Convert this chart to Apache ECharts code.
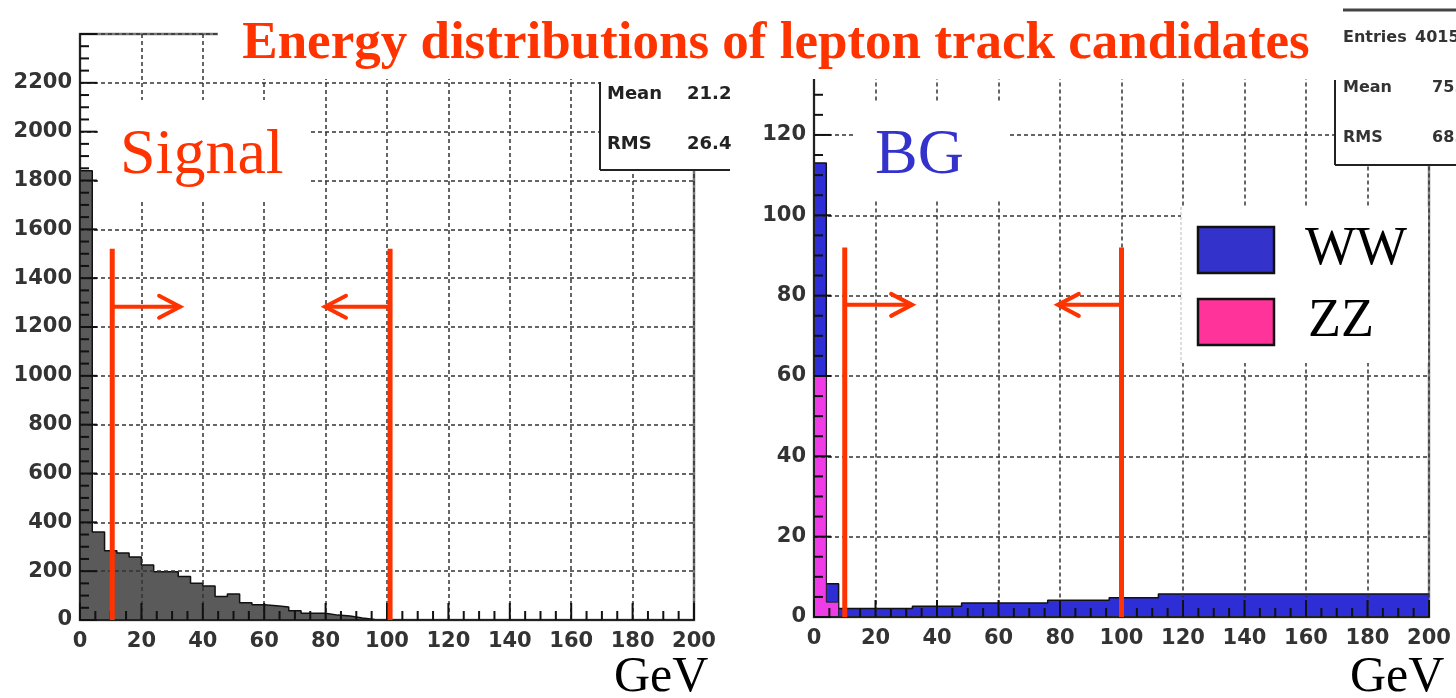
<!DOCTYPE html>
<html><head><meta charset="utf-8">
<script src="https://cdn.jsdelivr.net/npm/echarts@6/dist/echarts.min.js"></script>
<style>html,body{margin:0;padding:0;background:#fff}#c{width:1456px;height:698px}</style>
</head><body><div id="c"></div>
<script>
// ---- data (4 GeV bins, 0..200 GeV) ----
const binStarts = [0,4,8,12,16,20,24,28,32,36,40,44,48,52,56,60,64,68,72,76,80,84,88,92,96,
  100,104,108,112,116,120,124,128,132,136,140,144,148,152,156,160,164,168,172,176,180,184,188,192,196];
const binEnd = 200;
const signalCounts = [1840,360,284,274,258,225,198,198,178,151,139,96,106,71,62,58,53,38,28,28,
  20,16,8,2,0,0,0,0,0,0,0,0,0,0,0,0,0,0,0,0,0,0,0,0,0,0,0,0,0,0];
const zzCounts = [60,3.7,0,0,0,0,0,0,0,0,0,0,0,0,0,0,0,0,0,0,0,0,0,0,0,
  0,0,0,0,0,0,0,0,0,0,0,0,0,0,0,0,0,0,0,0,0,0,0,0,0];
const wwCounts = [53,4.6,2.1,2.1,2.1,2.1,2.1,2.1,2.65,2.65,2.65,2.65,3.5,3.5,3.5,3.5,3.5,3.5,3.5,
  4.15,4.15,4.15,4.15,4.15,4.8,4.8,4.8,4.8,5.7,5.7,5.7,5.7,5.7,5.7,5.7,5.7,5.7,5.7,5.7,5.7,5.7,5.7,
  5.7,5.7,5.7,5.7,5.7,5.7,5.7,5.7];
const xTicks = {min:0, max:200, interval:20, minor:5};
const ySignal = {min:0, max:2400, interval:200, minor:50};
const yBG = {min:0, max:140, interval:20, minor:5};
const statsSignal = [['Mean','21.2'],['RMS','26.4']];
const statsBG = [['Entries','4015'],['Mean','75.'],['RMS','68.']];
const legendItems = ['WW','ZZ'];
// cut annotations (GeV / counts)
const cutSignal = {lo:10.5, hi:101, top:1520, arrowY:1283, loTip:32.6, hiTip:79.8};
const cutBG = {lo:10, hi:100, top:92, arrowY:77.7, loTip:31.9, hiTip:79.3};

function stepData(vals){
  const d = binStarts.map((x,i)=>[x, vals[i]]);
  d.push([binEnd, vals[vals.length-1]]);
  return d;
}
// stacked total (WW on top of ZZ)
const bgTotal = wwCounts.map((v,i)=>v + zzCounts[i]);

const labelFont = {fontFamily:'DejaVu Sans', fontSize:21, fontWeight:'bold', color:'#333'};
const gridLine = {show:true, lineStyle:{color:'#333', width:1.5, type:[4,3]}};

function axis(r, idx, isY){
  return {type:'value', gridIndex:idx, position: isY?'left':'bottom', min:r.min, max:r.max, interval:r.interval, z:10,
    axisLine:{show:true, onZero:false, lineStyle:{color:'#222', width:2}},
    axisTick:{show:false}, minorTick:{show:false},
    axisLabel:Object.assign({margin: isY?8:11, showMaxLabel: !isY, formatter:v=>String(v)}, labelFont),
    splitLine:gridLine};
}

const chart = echarts.init(document.getElementById('c'), null, {renderer:'canvas'});
chart.setOption({
  animation:false,
  backgroundColor:'#fff',
  grid:[
    {left:80, top:34, width:614, height:586, show:true, borderColor:'#777', borderWidth:2.5, backgroundColor:'transparent'},
    {left:814, top:54.6, width:615, height:562.4, show:true, borderColor:'#888', borderWidth:2.5, backgroundColor:'transparent'}
  ],
  xAxis:[axis(xTicks,0,false), axis(xTicks,1,false)],
  yAxis:[axis(ySignal,0,true), axis(yBG,1,true)],
  series:[
    {type:'line', name:'Signal', xAxisIndex:0, yAxisIndex:0, step:'end', symbol:'none', z:3,
     data:stepData(signalCounts), lineStyle:{color:'#111', width:1.5}, areaStyle:{color:'#5a5a5a', opacity:1}},
    {type:'line', name:'WW', xAxisIndex:1, yAxisIndex:1, step:'end', symbol:'none', z:3,
     data:stepData(bgTotal), lineStyle:{color:'#111', width:1.5}, areaStyle:{color:'#2E2ED6', opacity:1}},
    {type:'line', name:'ZZ', xAxisIndex:1, yAxisIndex:1, step:'end', symbol:'none', z:4,
     data:stepData(zzCounts), lineStyle:{color:'#222', width:1}, areaStyle:{color:'#F03CE6', opacity:1}}
  ]
});

// ---- overlays ----
const RED = '#FF3300';
const g = [];
function rect(x,y,w,h,z,fill,stroke,lw,dash){
  g.push({type:'rect', shape:{x,y,width:w,height:h}, z:z||50,
    style:{fill:fill||'#fff', stroke:stroke||null, lineWidth:lw||0, lineDash:dash||null}});
}
function line(x1,y1,x2,y2,color,w,z,dash){
  g.push({type:'line', shape:{x1,y1,x2,y2}, z:z||52, style:{stroke:color, lineWidth:w, lineDash:dash||null}});
}
function text(t,x,y,font,color,align,z){
  g.push({type:'text', x, y, z:z||55, style:{text:t, font, fill:color, textAlign:align||'left', textVerticalAlign:'middle'}});
}
// inside ticks (ROOT style), positioned through the axes' scales
function ticks(gi, xr, yr){
  const p = (x,y)=>chart.convertToPixel({gridIndex:gi},[x,y]);
  for (let v = xr.min; v <= xr.max + 1e-9; v += xr.minor){
    const major = Math.abs(v/xr.interval - Math.round(v/xr.interval)) < 1e-6;
    const q = p(v, yr.min);
    line(q[0], q[1], q[0], q[1] - (major?17:9), '#111', 2, 20);
  }
  for (let v = yr.min; v <= yr.max + 1e-9; v += yr.minor){
    const major = Math.abs(v/yr.interval - Math.round(v/yr.interval)) < 1e-6;
    const q = p(xr.min, v);
    line(q[0], q[1], q[0] + (major?17:9), q[1], '#111', 2, 20);
  }
}
ticks(0, xTicks, ySignal);
ticks(1, xTicks, yBG);
// left stats box (right part hidden by right panel)
rect(600,60,130,110,50);
line(600,82,600,170,'#222',2);
line(600,170,730,170,'#222',2);
const statFont = 'bold 18px "DejaVu Sans"';
const statFontR = 'bold 16px "DejaVu Sans"';
statsSignal.forEach((s,i)=>{ text(s[0],607,94+i*50,statFont,'#222'); text(s[1],687,94+i*50,statFont,'#222'); });
// right panel stats box
rect(1335,8,121,157,50);
line(1343,10,1456,10,'#444',3);
line(1335,80,1335,165,'#222',2);
line(1335,165,1456,165,'#222',2);
statsBG.forEach((s,i)=>{ text(s[0],1343,38+i*50,statFontR,'#333'); text(s[1], s[0]==='Entries'?1415:1432,38+i*50,statFontR,'#333'); });
// title box
rect(218,0,1125,79,60);
text('Energy distributions of lepton track candidates',776,44,'bold 53px "Liberation Serif"',RED,'center',61);
// label boxes
rect(98,100,210,100,50);
text('Signal',120,156,'64px "Liberation Serif"',RED,'left',55);
rect(855,103,155,97,50);
text('BG',875,156,'64px "Liberation Serif"','#3333CC','left',55);
// legend
rect(1181,207,247,156,50);
line(1181,207,1181,363,'#bbb',1,51,[3,2]);
rect(1198,227,76,46,52,'#3333CC','#111',2.5);
rect(1198,299,76,46,52,'#FF3399','#111',2.5);
text(legendItems[0],1305,250,'54px "Liberation Serif"','#000','left',55);
text(legendItems[1],1308,322,'54px "Liberation Serif"','#000','left',55);
// axis unit labels
text('GeV',614,678,'50px "Liberation Serif"','#000','left',55);
text('GeV',1350,678,'50px "Liberation Serif"','#000','left',55);

// cut lines + arrows, placed through the chart's scales
function cuts(gi, c){
  const p = (x,y)=>chart.convertToPixel({gridIndex:gi},[x,y]);
  const lo0 = p(c.lo,0), lo1 = p(c.lo,c.top), hi0 = p(c.hi,0), hi1 = p(c.hi,c.top);
  line(lo0[0],lo0[1],lo1[0],lo1[1],RED,5,70);
  line(hi0[0],hi0[1],hi1[0],hi1[1],RED,5,70);
  const a = p(c.lo,c.arrowY), at = p(c.loTip,c.arrowY);
  const b = p(c.hi,c.arrowY), bt = p(c.hiTip,c.arrowY);
  line(a[0],a[1],at[0],at[1],RED,4,70);
  line(b[0],b[1],bt[0],bt[1],RED,4,70);
  g.push({type:'polyline', z:70, shape:{points:[[at[0]-21,at[1]-11],[at[0],at[1]],[at[0]-21,at[1]+11]]}, style:{stroke:RED, lineWidth:4, fill:null, lineCap:'round', lineJoin:'miter'}});
  g.push({type:'polyline', z:70, shape:{points:[[bt[0]+21,bt[1]-11],[bt[0],bt[1]],[bt[0]+21,bt[1]+11]]}, style:{stroke:RED, lineWidth:4, fill:null, lineCap:'round', lineJoin:'miter'}});
}
cuts(0, cutSignal);
cuts(1, cutBG);
chart.setOption({graphic:{elements:g}});
</script></body></html>
